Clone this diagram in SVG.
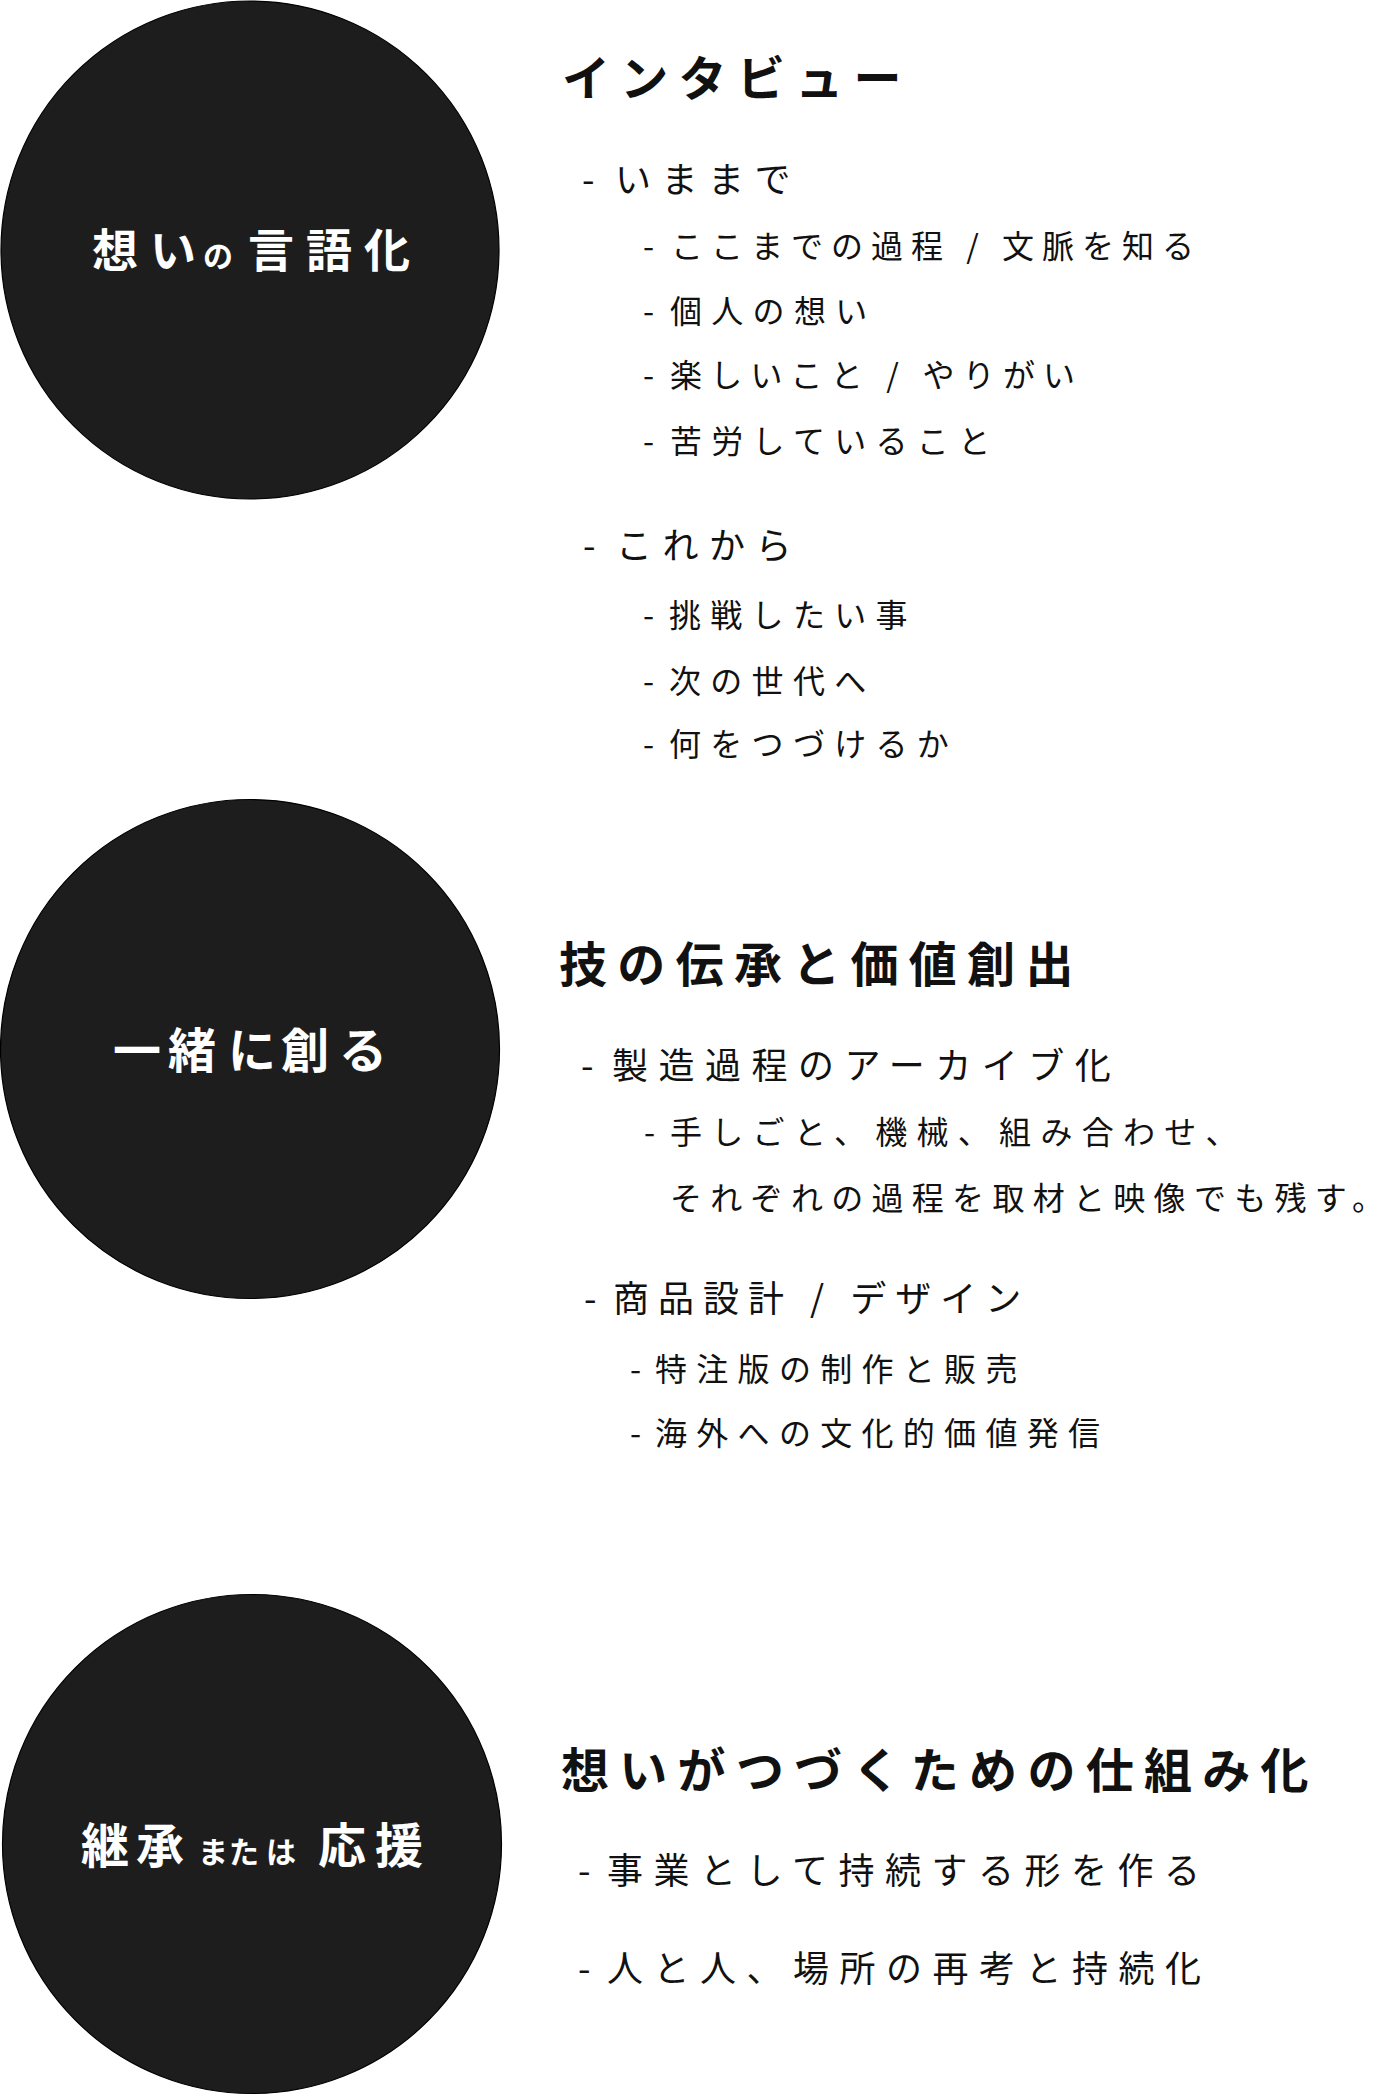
<svg xmlns="http://www.w3.org/2000/svg" width="1398" height="2096" viewBox="0 0 1398 2096">
<style>
text { font-family: "Noto Sans CJK JP", "Noto Sans CJK SC", sans-serif; fill: #111; }
.circ { fill: #1d1d1d; stroke: #000; stroke-width: 1.2; }
.lbl { fill: #fff; font-weight: 700; font-size: 48px; }
.lbl1 { fill: #fff; font-weight: 700; font-size: 46px; }
.kana { font-size: 30px; }
.h { font-size: 48px; font-weight: 700; letter-spacing: 10.3px; }
.l1 { font-size: 36px; letter-spacing: 10.5px; }
.l2 { font-size: 32px; letter-spacing: 9.3px; }
.d { letter-spacing: 0px; }
</style>
<rect width="1398" height="2096" fill="#fff"/>
<g id="connectors"/>
<g id="node-kotobaka">
<circle class="circ" cx="250" cy="250" r="249"/>
<text class="lbl1" y="267"><tspan x="92">想</tspan><tspan x="150">い</tspan><tspan x="203" class="kana">の</tspan><tspan x="248">言</tspan><tspan x="306">語</tspan><tspan x="364">化</tspan></text>
</g>
<g id="node-issho">
<circle class="circ" cx="250" cy="1049" r="249.5"/>
<text class="lbl" y="1068"><tspan x="113">一</tspan><tspan x="168">緒</tspan><tspan x="228">に</tspan><tspan x="281">創</tspan><tspan x="339">る</tspan></text>
</g>
<g id="node-keisho">
<circle class="circ" cx="252" cy="1844" r="249.5"/>
<text class="lbl" y="1863"><tspan x="81">継</tspan><tspan x="136">承</tspan><tspan x="198" class="kana">ま</tspan><tspan x="229" class="kana">た</tspan><tspan x="266" class="kana">は</tspan><tspan x="318">応</tspan><tspan x="375">援</tspan></text>
</g>
<g id="section-interview">
<text class="h" x="562" y="96">インタビュー</text>
<text class="l1" y="193"><tspan class="d" x="582">- </tspan><tspan x="615">いままで</tspan></text>
<text class="l2" y="258"><tspan class="d" x="643">- </tspan><tspan x="671" style="letter-spacing:8px">ここまでの過程 / 文脈を知る</tspan></text>
<text class="l2" y="323"><tspan class="d" x="643">- </tspan><tspan x="670">個人の想い</tspan></text>
<text class="l2" y="387"><tspan class="d" x="643">- </tspan><tspan x="670" style="letter-spacing:8.2px">楽しいこと / やりがい</tspan></text>
<text class="l2" y="453"><tspan class="d" x="643">- </tspan><tspan x="670">苦労していること</tspan></text>
<text class="l1" y="559"><tspan class="d" x="583">- </tspan><tspan x="616">これから</tspan></text>
<text class="l2" y="627"><tspan class="d" x="643">- </tspan><tspan x="669">挑戦したい事</tspan></text>
<text class="l2" y="693"><tspan class="d" x="643">- </tspan><tspan x="669">次の世代へ</tspan></text>
<text class="l2" y="756"><tspan class="d" x="643">- </tspan><tspan x="669">何をつづけるか</tspan></text>
</g>
<g id="section-craft">
<text class="h" x="559" y="982">技の伝承と価値創出</text>
<text class="l1" y="1079"><tspan class="d" x="581">- </tspan><tspan x="612">製造過程のアーカイブ化</tspan></text>
<text class="l2" y="1144"><tspan class="d" x="644">- </tspan><tspan x="670">手しごと、機械、組み合わせ、</tspan></text>
<text class="l2" x="670" y="1210" style="letter-spacing:8.3px">それぞれの過程を取材と映像でも残す。</text>
<text class="l1" y="1312"><tspan class="d" x="584">- </tspan><tspan x="613" style="letter-spacing:9px">商品設計 / デザイン</tspan></text>
<text class="l2" y="1381"><tspan class="d" x="630">- </tspan><tspan x="655">特注版の制作と販売</tspan></text>
<text class="l2" y="1445"><tspan class="d" x="630">- </tspan><tspan x="655">海外への文化的価値発信</tspan></text>
</g>
<g id="section-system">
<text class="h" x="561" y="1788">想いがつづくための仕組み化</text>
<text class="l1" y="1884"><tspan class="d" x="578">- </tspan><tspan x="607">事業として持続する形を作る</tspan></text>
<text class="l1" y="1982"><tspan class="d" x="578">- </tspan><tspan x="607">人と人、場所の再考と持続化</tspan></text>
</g>
</svg>
